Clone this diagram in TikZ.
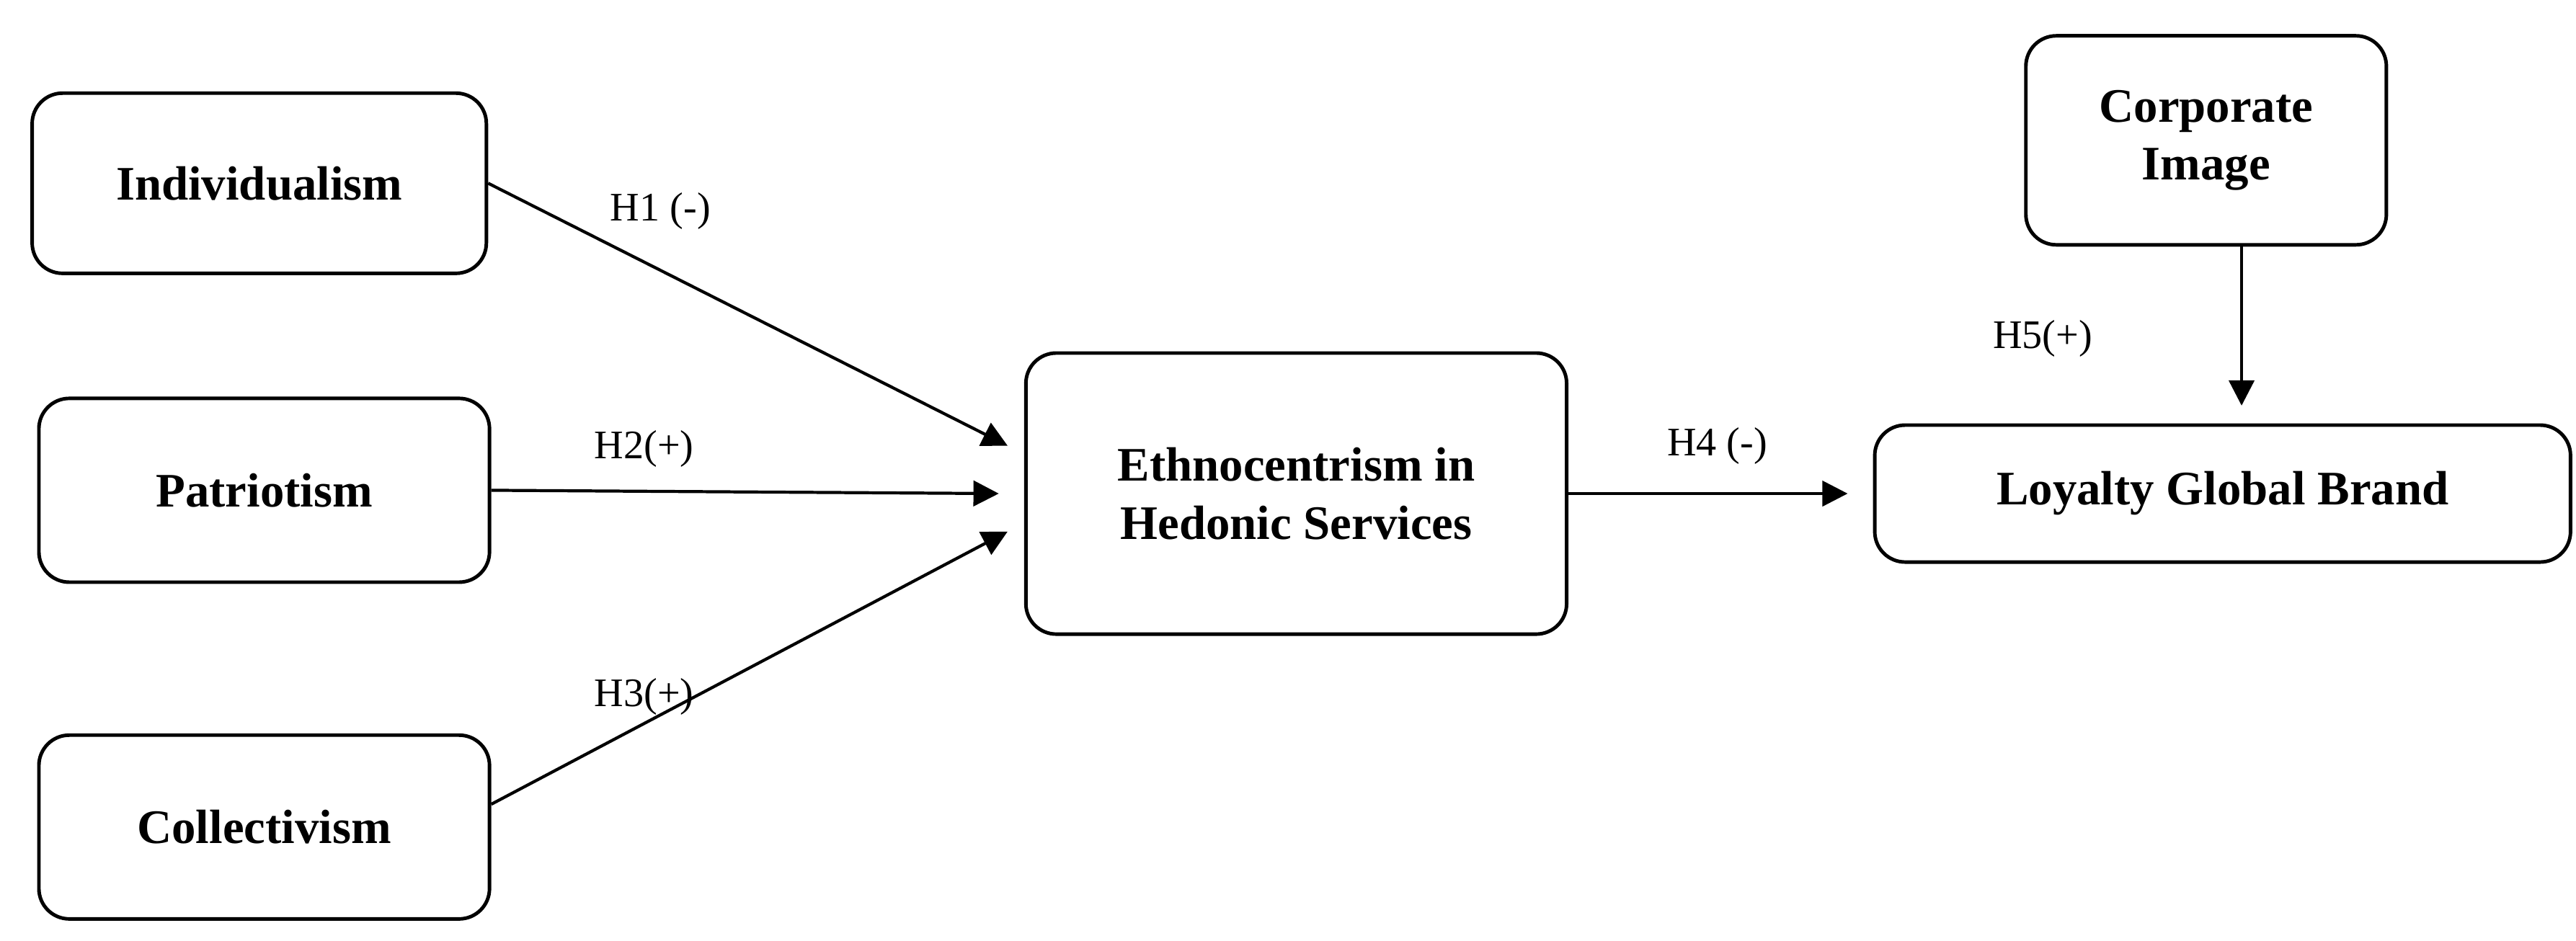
\documentclass[tikz,border=0pt]{standalone}
\usepackage{fontspec}
\setmainfont{Liberation Serif}
\usetikzlibrary{arrows.meta}

\begin{document}
\begin{tikzpicture}[x=0.02291cm,y=-0.02291cm]
            \useasboundingbox (0,0) rectangle (1560,570);
            \begin{scope}[every node/.style={draw,line width=1.4pt,rounded corners=12pt,align=center,font=\fontsize{19}{23}\selectfont\bfseries}]
                \node[minimum width=6.3cm,minimum height=2.5cm] (Ind) at (157,111) {Individualism};
                \node[minimum width=6.25cm,minimum height=2.55cm] (Pat) at (160,297) {Patriotism};
                \node[minimum width=6.25cm,minimum height=2.55cm] (Col) at (160,501) {Collectivism};
                \node[minimum width=7.5cm,minimum height=3.9cm] (Eth) at (785,299) {Ethnocentrism in\\Hedonic Services};
                \node[minimum width=9.65cm,minimum height=1.9cm] (Loy) at (1346,299) {Loyalty Global Brand};
                \node[minimum width=5cm,minimum height=2.9cm] (Cor) at (1336,85) {Corporate\\Image};
            \end{scope}

            \begin{scope}[>={Triangle[length=10pt,width=10pt]},
                          every node/.style={font=\fontsize{16}{19}\selectfont},
                          every edge/.style={draw=black,line width=1.2pt}]
                \path [->] (Ind.east) edge ([shift={(-10,-29)}]Eth.west);
                \path [->] (Pat.east) edge ([xshift=-10]Eth.west);
                \path [->] ([yshift=9]Col.east) edge ([shift={(-10,23)}]Eth.west);
                \path [->] (Eth.east) edge ([xshift=-10]Loy.west);
                \path [->] ([xshift=14]Cor.south) edge ([xshift=14,yshift=7]Cor.south |- Loy.north);
                \node (h1) at (400,128) {H1 (-)};
                \node (h2) at (390,272) {H2(+)};
                \node (h3) at (390,422) {H3(+)};
                \node (h4) at (1040,270) {H4 (-)};
                \node (h5) at (1237,205) {H5(+)};
            \end{scope}
            \end{tikzpicture}
\end{document}
